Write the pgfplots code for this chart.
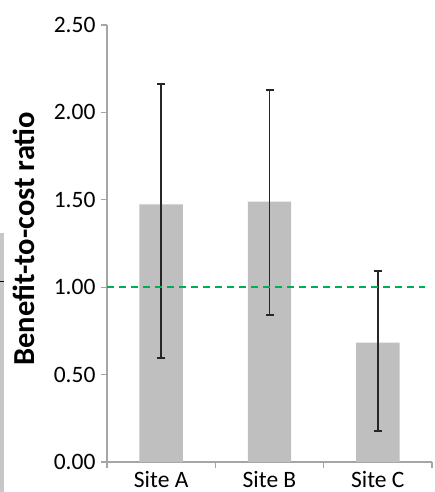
\documentclass[border=0pt]{standalone}
\usepackage{fontspec}
\setmainfont{Carlito}
\usepackage{pgfplots}
\pgfplotsset{compat=1.18}
\definecolor{bargray}{RGB}{191,191,191}
\definecolor{axgray}{RGB}{165,165,165}
\definecolor{refgreen}{RGB}{0,176,80}
\begin{document}
\begin{tikzpicture}
\begin{axis}[
  scale only axis, width=325pt, height=437pt,
  xmin=0.5, xmax=3.5, ymin=0, ymax=2.5,
  axis x line=bottom, axis y line=left,
  axis line style={draw=axgray, line width=1.3pt, -},
  tick style={draw=axgray, line width=1.3pt},
  tick align=outside,
  major tick length=6pt,
  xtick={0.5,1.5,2.5,3.5}, xticklabels={},
  extra x ticks={1,2,3}, extra x tick labels={Site A,Site B,Site C},
  extra x tick style={major tick length=0pt, xticklabel style={yshift=-5.5pt}},
  ytick={0,0.5,1,1.5,2,2.5},
  tick label style={font=\fontsize{23.5}{28}\selectfont, text=black},
  yticklabel style={xshift=-2pt, /pgf/number format/.cd, fixed, fixed zerofill, precision=2, assume math mode=true},
  ylabel={Benefit-to-cost ratio},
  every axis y label/.style={at={(rel axis cs:0,0.511)}, xshift=-72pt, anchor=base, rotate=90, font=\fontsize{30.5}{34}\selectfont\bfseries},
  clip=false,
]
\addplot[ybar, bar width=0.4, fill=bargray, draw=none,
  error bars/.cd, y dir=both, y explicit,
  error bar style={line width=1.8pt, black!85},
  error mark options={rotate=90, mark size=4pt, line width=1.8pt, black!85}]
  coordinates {
  (1,1.474) += (0,0.689) -= (0,0.881)
  (2,1.489) += (0,0.639) -= (0,0.646)
  (3,0.683) += (0,0.408) -= (0,0.504)
  };
\addplot[refgreen, line width=2.6pt, dash pattern=on 7pt off 5pt, forget plot]
  coordinates {(0.5,1) (3.436,1)};
\coordinate (bl) at (rel axis cs:0,0);
\coordinate (tr) at (rel axis cs:1,1);
\end{axis}
\fill[black!22] ([xshift=-107pt,yshift=-30pt]bl) rectangle ([xshift=-103pt,yshift=229pt]bl);
\draw[black, line width=1pt] ([xshift=-107pt,yshift=180pt]bl) -- ([xshift=-103pt,yshift=180pt]bl);
\pgfresetboundingbox
\path[use as bounding box] ([xshift=-107pt,yshift=-30pt]bl) rectangle ([xshift=2pt,yshift=25pt]tr);
\end{tikzpicture}
\end{document}
